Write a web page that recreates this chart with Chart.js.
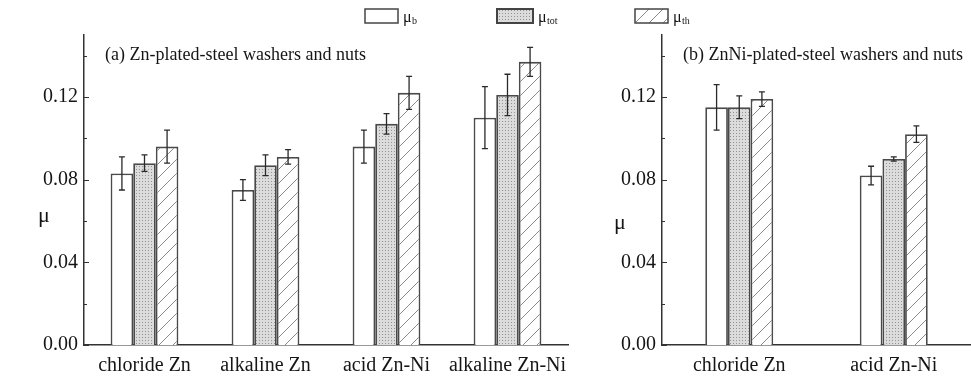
<!DOCTYPE html>
<html lang="en">
<head>
<meta charset="UTF-8">
<title>Friction coefficients of plated washers and nuts</title>
<script src="https://cdn.jsdelivr.net/npm/chart.js"></script>
<style>
  html, body { margin: 0; padding: 0; background: #fff; }
  #wrap { position: relative; width: 971px; height: 381px; }
  #wrap canvas { position: absolute; left: 0; top: 0; }
</style>
</head>
<body>
<div id="wrap">
  <canvas id="panelA" width="971" height="381"></canvas>
  <canvas id="panelB" width="971" height="381"></canvas>
</div>
<script>
const FONT = "'Liberation Serif', 'Times New Roman', serif";
const INK = '#151515';

// (a) Zn-plated-steel washers and nuts
const zincLabels = ['chloride Zn', 'alkaline Zn', 'acid Zn-Ni', 'alkaline Zn-Ni'];
const zincMuB   = [0.083, 0.075, 0.096, 0.110];
const zincMuTot = [0.088, 0.087, 0.107, 0.121];
const zincMuTh  = [0.096, 0.091, 0.122, 0.137];
const zincErrB   = [0.008, 0.005, 0.008, 0.015];
const zincErrTot = [0.004, 0.005, 0.005, 0.010];
const zincErrTh  = [0.008, 0.0035, 0.008, 0.007];

// (b) ZnNi-plated-steel washers and nuts
const zincNiLabels = ['chloride Zn', 'acid Zn-Ni'];
const zincNiMuB   = [0.115, 0.082];
const zincNiMuTot = [0.115, 0.090];
const zincNiMuTh  = [0.119, 0.102];
const zincNiErrB   = [0.011, 0.0045];
const zincNiErrTot = [0.0055, 0.001];
const zincNiErrTh  = [0.0035, 0.004];

// subscripts of mu for the three series
const seriesSubs = ['b', 'tot', 'th'];
const yMajorTicks = [0, 0.04, 0.08, 0.12];
const yMinorTicks = [0.02, 0.06, 0.10, 0.14];

function dotPattern() {
  const c = document.createElement('canvas');
  c.width = 3; c.height = 3;
  const g = c.getContext('2d');
  g.fillStyle = '#dcdcdc';
  g.fillRect(0, 0, 3, 3);
  g.fillStyle = '#939393';
  g.fillRect(1, 1, 1, 1);
  return g.createPattern(c, 'repeat');
}

function hatchPattern() {
  const s = 14;
  const c = document.createElement('canvas');
  c.width = s; c.height = s;
  const g = c.getContext('2d');
  g.fillStyle = '#fff';
  g.fillRect(0, 0, s, s);
  g.strokeStyle = '#8a8a8a';
  g.lineWidth = 1;
  g.beginPath();
  g.moveTo(0, s); g.lineTo(s, 0);
  g.moveTo(-1, 1); g.lineTo(1, -1);
  g.moveTo(s - 1, s + 1); g.lineTo(s + 1, s - 1);
  g.stroke();
  return g.createPattern(c, 'repeat');
}

const fills = ['#ffffff', dotPattern(), hatchPattern()];

// error bars, inward axis ticks, panel title and the mu axis label
function makeDecor(title, yTitleX, yTitleY, withLegend) {
  return {
    id: 'panelDecor',
    afterDatasetsDraw(chart) {
      const ctx = chart.ctx;
      const y = chart.scales.y;
      ctx.save();
      ctx.strokeStyle = '#2a2a2a';
      ctx.lineWidth = 1.3;
      chart.data.datasets.forEach((ds, i) => {
        chart.getDatasetMeta(i).data.forEach((bar, j) => {
          const top = y.getPixelForValue(ds.data[j] + ds.errors[j]);
          const bot = y.getPixelForValue(ds.data[j] - ds.errors[j]);
          ctx.beginPath();
          ctx.moveTo(bar.x, top); ctx.lineTo(bar.x, bot);
          ctx.moveTo(bar.x - 3, top); ctx.lineTo(bar.x + 3, top);
          ctx.moveTo(bar.x - 3, bot); ctx.lineTo(bar.x + 3, bot);
          ctx.stroke();
        });
      });
      ctx.restore();
    },
    afterDraw(chart) {
      const ctx = chart.ctx;
      const area = chart.chartArea;
      const y = chart.scales.y;
      ctx.save();
      ctx.strokeStyle = '#333';
      ctx.lineWidth = 1.2;
      ctx.beginPath();
      yMajorTicks.forEach(v => {
        const py = Math.round(y.getPixelForValue(v)) + 0.5;
        ctx.moveTo(area.left, py); ctx.lineTo(area.left + 5, py);
      });
      yMinorTicks.forEach(v => {
        const py = Math.round(y.getPixelForValue(v)) + 0.5;
        ctx.moveTo(area.left, py); ctx.lineTo(area.left + 3, py);
      });
      ctx.stroke();

      ctx.fillStyle = INK;
      ctx.font = '18px ' + FONT;
      ctx.textBaseline = 'middle';
      ctx.textAlign = 'left';
      ctx.fillText(title, area.left + 21, 55);

      ctx.font = '22px ' + FONT;
      ctx.textAlign = 'center';
      ctx.fillText('\u03bc', yTitleX, yTitleY);

      if (withLegend) {
        const boxX = [365, 497, 635];
        chart.data.datasets.forEach((ds, i) => {
          const w = i === 1 ? 36 : 33;
          ctx.fillStyle = ds.backgroundColor;
          ctx.fillRect(boxX[i], 9, w, 14);
          ctx.strokeStyle = '#444';
          ctx.lineWidth = i === 1 ? 2 : 1.5;
          ctx.strokeRect(boxX[i], 9, w, 14);
          ctx.fillStyle = INK;
          ctx.textAlign = 'left';
          ctx.textBaseline = 'alphabetic';
          ctx.font = '16px ' + FONT;
          const tx = boxX[i] + w + 5;
          ctx.fillText('\u03bc', tx, 22);
          ctx.font = '10px ' + FONT;
          ctx.fillText(seriesSubs[i], tx + 9, 24);
        });
      }
      ctx.restore();
    }
  };
}

function makePanel(id, labels, values, errors, opts) {
  const datasets = values.map((vals, i) => ({
    label: '\u03bc' + seriesSubs[i],
    data: vals,
    errors: errors[i],
    backgroundColor: fills[i],
    borderColor: '#4a4a4a',
    borderWidth: 1.8,
    categoryPercentage: opts.groupWidth,
    barPercentage: 1.0
  }));

  return new Chart(document.getElementById(id), {
    type: 'bar',
    data: { labels, datasets },
    options: {
      responsive: false,
      animation: false,
      events: [],
      layout: { padding: opts.padding },
      plugins: { legend: { display: false }, tooltip: { enabled: false } },
      scales: {
        x: {
          grid: { display: false, drawTicks: false },
          border: { display: true, color: '#333', width: 1.5 },
          ticks: {
            color: INK,
            font: { family: FONT, size: 20 },
            padding: 9,
            autoSkip: false,
            maxRotation: 0
          },
          afterFit(scale) { scale.height = 36; }
        },
        y: {
          min: 0,
          max: 0.15,
          grid: { display: false, drawTicks: false },
          border: { display: true, color: '#333', width: 1.5 },
          afterBuildTicks(scale) {
            scale.ticks = yMajorTicks.map(v => ({ value: v }));
          },
          ticks: {
            color: INK,
            font: { family: FONT, size: 20 },
            padding: 6,
            callback: v => v.toFixed(2)
          },
          afterFit(scale) { scale.width = opts.yWidth; }
        }
      }
    },
    plugins: [makeDecor(opts.title, opts.yTitleX, opts.yTitleY, opts.legend)]
  });
}

makePanel('panelA', zincLabels,
  [zincMuB, zincMuTot, zincMuTh],
  [zincErrB, zincErrTot, zincErrTh],
  {
    title: '(a) Zn-plated-steel washers and nuts',
    padding: { left: 0, right: 403, top: 35, bottom: 0 },
    yWidth: 84,
    groupWidth: 0.56,
    yTitleX: 44, yTitleY: 216,
    legend: true
  });

makePanel('panelB', zincNiLabels,
  [zincNiMuB, zincNiMuTot, zincNiMuTh],
  [zincNiErrB, zincNiErrTot, zincNiErrTh],
  {
    title: '(b) ZnNi-plated-steel washers and nuts',
    padding: { left: 580, right: 0, top: 35, bottom: 0 },
    yWidth: 82,
    groupWidth: 0.44,
    yTitleX: 620, yTitleY: 223,
    legend: false
  });
</script>
</body>
</html>
